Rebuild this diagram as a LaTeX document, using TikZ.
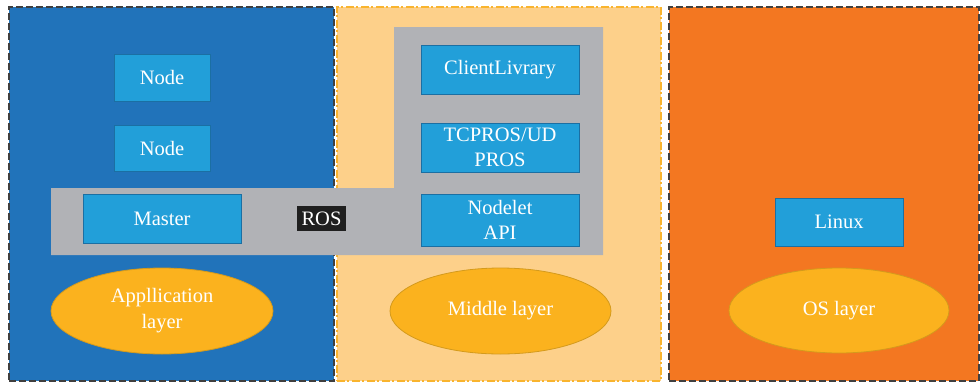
\documentclass[tikz,border=0pt]{standalone}
\usepackage{fontspec}
\setmainfont{Liberation Serif}
\usetikzlibrary{shapes.geometric}
\definecolor{appblue}{HTML}{2173BA}
\definecolor{midpanel}{HTML}{FDD08A}
\definecolor{ospanel}{HTML}{F37721}
\definecolor{boxblue}{HTML}{229FD9}
\definecolor{boxedge}{HTML}{1B6FA3}
\definecolor{rosgray}{HTML}{B1B2B6}
\definecolor{ellfill}{HTML}{FBB21E}
\definecolor{elledge}{HTML}{D49A1C}
\definecolor{dashgray}{HTML}{3F3F3F}
\definecolor{dashyellow}{HTML}{F9B42E}
\begin{document}
\begin{tikzpicture}[x=1pt,y=-1pt,
  panel/.style={anchor=north west, inner sep=0pt, line width=1.5pt, dash pattern=on 7pt off 3pt},
  box/.style={draw=boxedge, fill=boxblue, text=white, inner sep=0pt, line width=1pt,
    align=center, font=\fontsize{20.5}{25}\selectfont},
  layer/.style={ellipse, draw=elledge, fill=ellfill, text=white, inner sep=0pt, line width=0.8pt,
    minimum width=221pt, minimum height=86pt, align=center, font=\fontsize{20.5}{26}\selectfont}]
\useasboundingbox (0,0) rectangle (980,381);
% panels
\node[panel, fill=appblue, draw=dashgray, minimum width=325pt, minimum height=374pt] (apppanel) at (8,6) {};
\node[panel, fill=midpanel, draw=dashyellow, dash pattern=on 8pt off 2.5pt on 2pt off 2.5pt, minimum width=324pt, minimum height=374pt] (midpanelnode) at (336,6) {};
\node[panel, fill=ospanel, draw=dashgray, minimum width=310pt, minimum height=374pt] (ospanelnode) at (668,6) {};
% gray ROS L-shape
\fill[rosgray] (51,188) -- (394,188) -- (394,27) -- (603,27) -- (603,255) -- (51,255) -- cycle;
% boxes
\node[box, minimum width=96pt, minimum height=47pt] (node1) at (162,77.5) {Node};
\node[box, minimum width=96pt, minimum height=46pt] (node2) at (162,148) {Node};
\node[box, minimum width=158pt, minimum height=49pt] (master) at (162,218.5) {Master};
\node[fill=black!88, text=white, inner sep=0pt, minimum width=49pt, minimum height=25pt, font=\fontsize{20.5}{25}\selectfont] (ros) at (321.5,218.5) {ROS};
\node[box, minimum width=158pt, minimum height=49pt] (client) at (500,69.5) {ClientLivrary};
\node[box, minimum width=158pt, minimum height=49pt] (tcpros) at (500,147.5) {TCPROS/UD\\PROS};
\node[box, minimum width=158pt, minimum height=52pt] (nodelet) at (500,220) {Nodelet\\API};
\node[box, minimum width=128pt, minimum height=48pt] (linux) at (839,222) {Linux};
% layer ellipses
\node[layer, minimum width=222pt] (applayer) at (162,311) {Appllication\\layer};
\node[layer] (midlayer) at (500.5,311) {Middle layer};
\node[layer, minimum width=220pt, minimum height=85pt] (oslayer) at (839,310.5) {OS layer};
\end{tikzpicture}
\end{document}
